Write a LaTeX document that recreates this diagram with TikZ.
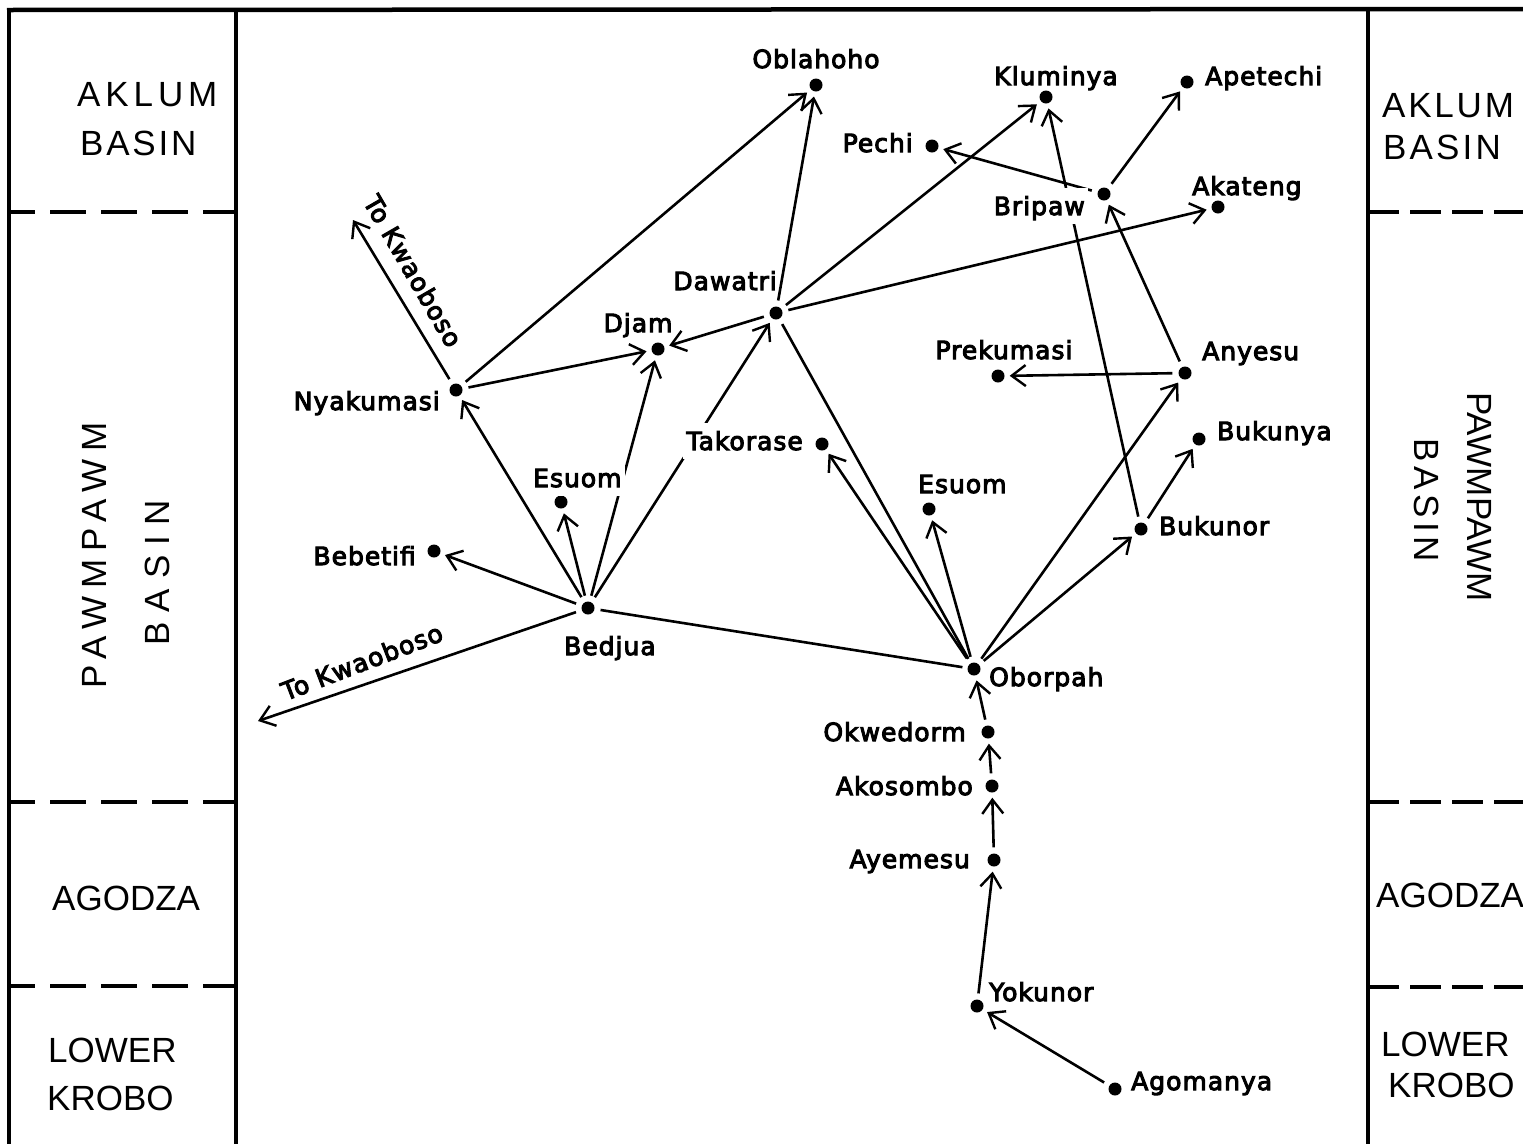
\documentclass[tikz,border=0pt]{standalone}
\usepackage{fontspec}
\setmainfont{DejaVu Sans}
\newfontfamily\placefont[FakeBold=4]{DejaVu Sans}
\newfontfamily\regionfont{Liberation Sans}
\usetikzlibrary{arrows.meta}
\begin{document}
\begin{tikzpicture}[x=1pt,y=-1pt,
  dot/.style={circle,fill=black,inner sep=0pt,minimum size=13pt},
  place/.style={font=\placefont\fontsize{25}{25}\selectfont\addfontfeature{LetterSpace=4},inner sep=0pt,text height=18pt,text depth=0pt},
  mask/.style={place,fill=white,inner xsep=3pt,inner ysep=9pt},
  region/.style={font=\regionfont\fontsize{35}{35}\selectfont,inner sep=0pt,text height=25pt,text depth=0pt},
  frame/.style={line width=3.5pt},
  zone/.style={line width=4pt,dash pattern=on 36pt off 15pt,dash phase=10pt},
  conn/.style={line width=2.6pt,shorten >=5pt,shorten <=6pt},
  arr/.style={conn,-{Straight Barb[length=14pt,width=21pt,line width=2.4pt]}},
  free/.style={arr,shorten >=0pt}]
\useasboundingbox (0,0) rectangle (1523,1144);
\fill[white] (0,0) rectangle (1523,1144);
% frame
\draw[line width=4.5pt] (7,10) -- (1523,9);
\draw[frame] (9,10) -- (9,1144);
\draw[frame] (236,10) -- (236,1144);
\draw[frame] (1368,9) -- (1368,1144);
\draw[zone] (9,212) -- (236,212);
\draw[zone] (9,802) -- (236,802);
\draw[zone] (9,986) -- (236,986);
\draw[zone,dash pattern=on 31pt off 11pt,dash phase=0pt] (1368,212) -- (1523,212);
\draw[zone,dash pattern=on 31pt off 11pt,dash phase=0pt] (1368,802) -- (1523,802);
\draw[zone,dash pattern=on 31pt off 11pt,dash phase=0pt] (1368,987) -- (1523,987);
% region labels left
\node[region,anchor=west] (lak) at (77,94) {\addfontfeature{LetterSpace=14}AKLUM};
\node[region,anchor=west] (lba) at (80,143) {\addfontfeature{LetterSpace=8}BASIN};
\node[region,rotate=90] (lpa) at (94,555) {\addfontfeature{LetterSpace=23}PAWMPAWM};
\node[region,rotate=90] (lpb) at (157,573) {\addfontfeature{LetterSpace=29}BASIN};
\node[region,anchor=west] (lag) at (52,898) {AGODZA};
\node[region,anchor=west] (llo) at (48,1050) {LOWER};
\node[region,anchor=west] (lkr) at (47,1098) {KROBO};
% region labels right
\node[region,anchor=west] (rak) at (1382,105) {\addfontfeature{LetterSpace=8}AKLUM};
\node[region,anchor=west] (rba) at (1383,147) {\addfontfeature{LetterSpace=9}BASIN};
\node[region,rotate=-90] (rpa) at (1480,497) {PAWMPAWM};
\node[region,rotate=-90] (rpb) at (1427,500) {\addfontfeature{LetterSpace=13}BASIN};
\node[region,anchor=west] (rag) at (1376,895) {AGODZA};
\node[region,anchor=west] (rlo) at (1381,1044) {LOWER};
\node[region,anchor=west] (rkr) at (1388,1085) {KROBO};
% places
\node[dot] (obl) at (816,85) {};
\node[dot] (klu) at (1046,97) {};
\node[dot] (ape) at (1187,82) {};
\node[dot] (pec) at (932,146) {};
\node[dot] (bri) at (1104,194) {};
\node[dot] (aka) at (1218,207) {};
\node[dot] (daw) at (776,313) {};
\node[dot] (dja) at (658,349) {};
\node[dot] (nya) at (456,390) {};
\node[dot] (pre) at (998,376) {};
\node[dot] (any) at (1185,373) {};
\node[dot] (tak) at (822,444) {};
\node[dot] (buk) at (1199,439) {};
\node[dot] (esl) at (561,502) {};
\node[dot] (esr) at (929,509) {};
\node[dot] (beb) at (434,551) {};
\node[dot] (bkr) at (1141,529) {};
\node[dot] (bed) at (588,608) {};
\node[dot] (obo) at (974,669) {};
\node[dot] (okw) at (988,732) {};
\node[dot] (ako) at (992,786) {};
\node[dot] (aye) at (994,860) {};
\node[dot] (yok) at (977,1006) {};
\node[dot] (ago) at (1115,1089) {};
\coordinate (tk1) at (353,220);
\coordinate (tk2) at (258,721);
% connectors
\draw[arr] (nya) -- (obl);
\draw[arr] (daw) -- (obl);
\draw[arr] (daw) -- (klu);
\draw[arr] (bkr) -- (klu);
\draw[arr] (bri) -- (pec);
\draw[arr] (bri) -- (ape);
\draw[arr] (daw) -- (aka);
\draw[arr] (daw) -- (dja);
\draw[arr] (nya) -- (dja);
\draw[arr] (bed) -- (dja);
\draw[arr] (bed) -- (daw);
\draw[arr] (bed) -- (nya);
\draw[arr] (bed) -- (esl);
\draw[arr] (bed) -- (beb);
\draw[free] (bed) -- (tk2);
\draw[free] (nya) -- (tk1);
\draw[conn] (bed) -- (obo);
\draw[conn] (daw) -- (obo);
\draw[arr] (obo) -- (tak);
\draw[arr] (obo) -- (esr);
\draw[arr] (obo) -- (any);
\draw[arr] (obo) -- (bkr);
\draw[arr] (bkr) -- (buk);
\draw[arr] (any) -- (pre);
\draw[arr] (any) -- (bri);
\draw[arr] (okw) -- (obo);
\draw[arr] (ako) -- (okw);
\draw[arr] (aye) -- (ako);
\draw[arr] (yok) -- (aye);
\draw[arr] (ago) -- (yok);
% place labels
\node[place] (tobl) at (816,59) {Oblahoho};
\node[place] (tklu) at (1056,76) {Kluminya};
\node[place,anchor=west] (tape) at (1205,76) {Apetechi};
\node[place,anchor=east] (tpec) at (913,143) {Pechi};
\node[mask,anchor=east] (tbri) at (1088,206) {Bripaw};
\node[place,anchor=west] (taka) at (1192,186) {Akateng};
\node[place,anchor=east] (tdaw) at (777,281) {Dawatri};
\node[place] (tdja) at (638,323) {Djam};
\node[place,anchor=east] (tnya) at (440,401) {Nyakumasi};
\node[place] (tpre) at (1004,350) {Prekumasi};
\node[place,anchor=west] (tany) at (1202,351) {Anyesu};
\node[mask,anchor=east] (ttak) at (806,441) {Takorase};
\node[place,anchor=west] (tbuk) at (1217,431) {Bukunya};
\node[mask,anchor=west] (tesl) at (530,478) {Esuom};
\node[place,anchor=west] (tesr) at (918,484) {Esuom};
\node[place,anchor=east] (tbeb) at (416,556) {Bebetifi};
\node[place,anchor=west] (tbkr) at (1159,526) {Bukunor};
\node[place,anchor=west] (tbed) at (564,646) {Bedjua};
\node[place,anchor=west] (tobo) at (989,677) {Oborpah};
\node[place,anchor=east] (tokw) at (966,732) {Okwedorm};
\node[place,anchor=east] (tako) at (973,786) {Akosombo};
\node[place,anchor=east] (taye) at (970,859) {Ayemesu};
\node[place,anchor=west] (tyok) at (989,992) {Yokunor};
\node[place,anchor=west] (tago) at (1131,1081) {Agomanya};
\node[place,rotate=-60] (ttk1) at (413,271) {To Kwaoboso};
\node[place,rotate=21] (ttk2) at (362,662) {To Kwaoboso};
\end{tikzpicture}
\end{document}
